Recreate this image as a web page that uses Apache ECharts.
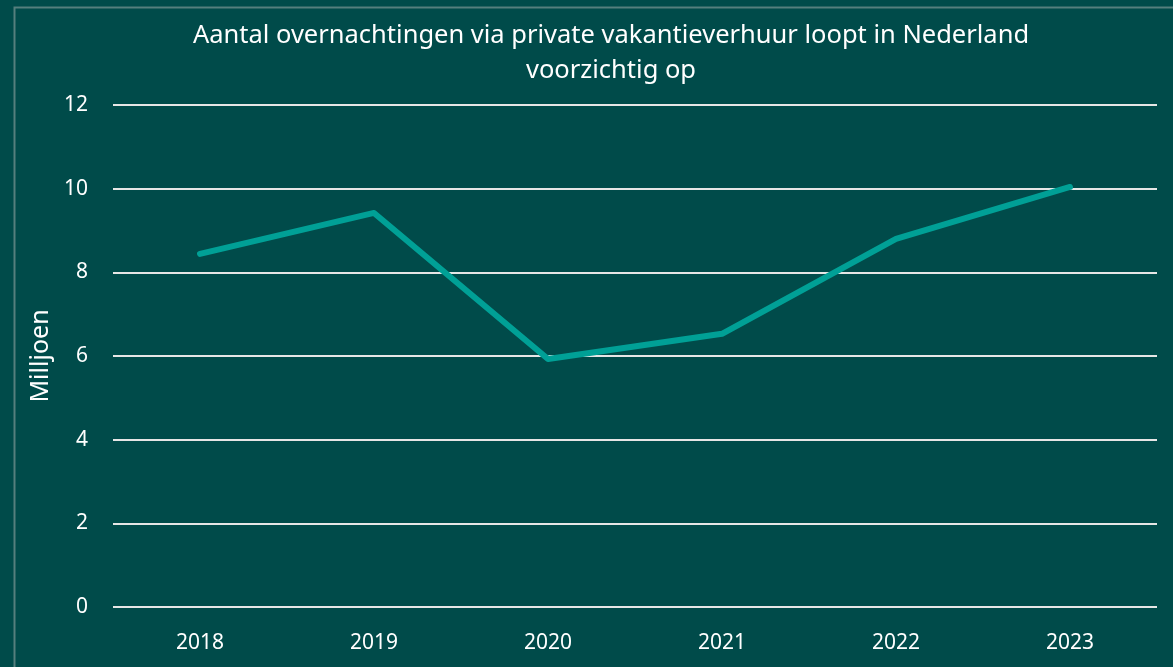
<!DOCTYPE html>
<html>
<head>
<meta charset="utf-8">
<script src="https://cdn.jsdelivr.net/npm/echarts@6/dist/echarts.min.js"></script>
<style>
  html, body { margin: 0; padding: 0; background: #004b4a; }
  #chart { width: 1173px; height: 667px; }
</style>
</head>
<body>
<div id="chart"></div>
<script>
// jaren en aantallen (miljoen overnachtingen)
const jaren = ["2018", "2019", "2020", "2021", "2022", "2023"];
const overnachtingen = [8.44, 9.42, 5.93, 6.53, 8.8, 10.04];

const chart = echarts.init(document.getElementById("chart"));
const font = "'Noto Sans', sans-serif";

const option = {
  backgroundColor: "#004b4a",
  textStyle: { fontFamily: font },
  title: {
    text: "Aantal overnachtingen via private vakantieverhuur loopt in Nederland\nvoorzichtig op",
    left: 606,
    top: 13,
    textAlign: "center",
    textStyle: {
      color: "#ffffff",
      fontSize: 25.5,
      fontWeight: "normal",
      lineHeight: 35,
      fontFamily: font,
    },
  },
  graphic: [
    {
      type: "rect",
      shape: { x: 14.5, y: 7.5, width: 1200, height: 700 },
      style: { fill: "none", stroke: "#557f7d", lineWidth: 2 },
      silent: true,
    },
  ],
  grid: {
    left: 113,
    right: 16,
    top: 105,
    bottom: 60,
  },
  xAxis: {
    type: "category",
    data: jaren,
    boundaryGap: true,
    axisLine: { show: false },
    axisTick: { show: false },
    axisLabel: { color: "#ffffff", fontSize: 21, margin: 26 },
  },
  yAxis: {
    type: "value",
    min: 0,
    max: 12,
    interval: 2,
    name: "Milljoen",
    nameLocation: "middle",
    nameGap: 58,
    nameTextStyle: { color: "#ffffff", fontSize: 25 },
    axisLine: { show: false },
    axisTick: { show: false },
    axisLabel: { color: "#ffffff", fontSize: 21, margin: 25 },
    splitLine: { lineStyle: { color: "#e6e6e6", width: 2 } },
  },
  series: [
    {
      type: "line",
      data: overnachtingen,
      symbol: "none",
      lineStyle: { color: "#00a096", width: 6, cap: "round", join: "round" },
    },
  ],
};

chart.setOption(option);
</script>
</body>
</html>
